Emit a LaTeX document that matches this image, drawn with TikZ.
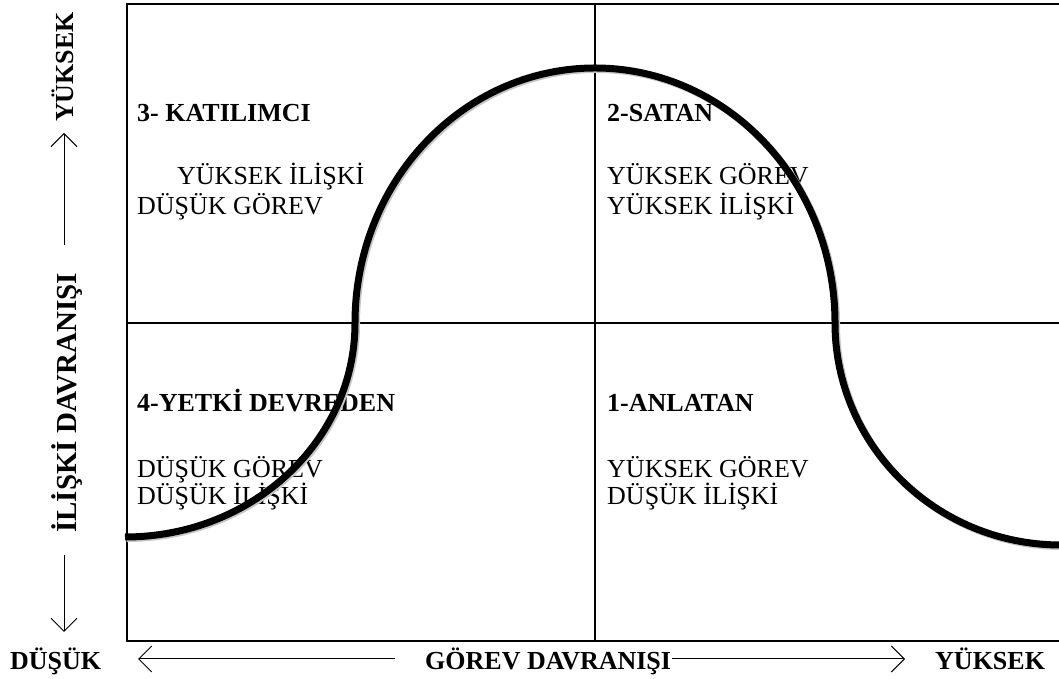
\documentclass[tikz,border=0pt]{standalone}
\usepackage{fontspec}
\setmainfont{Liberation Serif}
\usetikzlibrary{arrows.meta}
\begin{document}
\begin{tikzpicture}[x=1pt,y=1pt,
 lbl/.style={anchor=base west, inner sep=0pt, font=\fontsize{26}{26}\selectfont},
 blbl/.style={anchor=base west, inner sep=0pt, font=\fontsize{26}{26}\selectfont\bfseries},
 axlbl/.style={inner sep=0pt, font=\fontsize{26}{26}\selectfont\bfseries},
 axarrow/.style={line width=1pt, -{Straight Barb[length=13pt,width=26pt]}},
 frameline/.style={line width=2.4pt},
 divider/.style={line width=1.4pt},
 curveline/.style={line width=7pt}]
\useasboundingbox (0,0) rectangle (1059,679);
% frame and dividers
\draw[frameline] (1062,675) -- (127,675) -- (127,38) -- (1062,38);
\draw[divider] (595,675) -- (595,38);
\draw[divider] (127,356) -- (1062,356);
% quadrant texts
\node[blbl] (q3t) at (137,557) {3- KATILIMCI};
\node[lbl]  (q3a) at (177,494) {YÜKSEK İLİŞKİ};
\node[lbl]  (q3b) at (137,464) {DÜŞÜK GÖREV};
\node[blbl] (q2t) at (607,557) {2-SATAN};
\node[lbl]  (q2a) at (607,494) {YÜKSEK GÖREV};
\node[lbl]  (q2b) at (607,464) {YÜKSEK İLİŞKİ};
\node[blbl] (q4t) at (137,267) {4-YETKİ DEVREDEN};
\node[lbl]  (q4a) at (137,201) {DÜŞÜK GÖREV};
\node[lbl]  (q4b) at (137,174) {DÜŞÜK İLİŞKİ};
\node[blbl] (q1t) at (607,267) {1-ANLATAN};
\node[lbl]  (q1a) at (607,201) {YÜKSEK GÖREV};
\node[lbl]  (q1b) at (607,174) {DÜŞÜK İLİŞKİ};
% curve
\draw[curveline, gray!45, shift={(1.5,-1.5)}] (125,142)
  arc[start angle=-90, end angle=0, x radius=230, y radius=214]
  arc[start angle=180, end angle=90, x radius=240, y radius=255]
  arc[start angle=90, end angle=0, x radius=240, y radius=255]
  arc[start angle=180, end angle=270, x radius=226, y radius=222];
\draw[curveline] (125,142)
  arc[start angle=-90, end angle=0, x radius=230, y radius=214]
  arc[start angle=180, end angle=90, x radius=240, y radius=255]
  arc[start angle=90, end angle=0, x radius=240, y radius=255]
  arc[start angle=180, end angle=270, x radius=226, y radius=222];
% axis labels
\node[axlbl, rotate=90, anchor=base west] (yhigh) at (73,557) {YÜKSEK};
\node[axlbl, rotate=90, anchor=base, font=\fontsize{29}{29}\selectfont\bfseries] (ytitle) at (76,276) {İLİŞKİ DAVRANIŞI};
\node[axlbl, anchor=base west] (xlow) at (10,9) {DÜŞÜK};
\node[axlbl, anchor=base west] (xtitle) at (425,9) {GÖREV DAVRANIŞI};
\node[axlbl, anchor=base west] (xhigh) at (935,9) {YÜKSEK};
% arrows
\coordinate (upS) at (64,434);
\coordinate (upT) at (64,546);
\coordinate (dnS) at (64,124);
\coordinate (dnT) at (64,47);
\coordinate (lfS) at (395,20);
\coordinate (lfT) at (138,20);
\coordinate (rtS) at (672,20);
\coordinate (rtT) at (905,20);
\draw[axarrow] (upS) -- (upT);
\draw[axarrow] (dnS) -- (dnT);
\draw[axarrow] (lfS) -- (lfT);
\draw[axarrow] (rtS) -- (rtT);
\end{tikzpicture}
\end{document}
